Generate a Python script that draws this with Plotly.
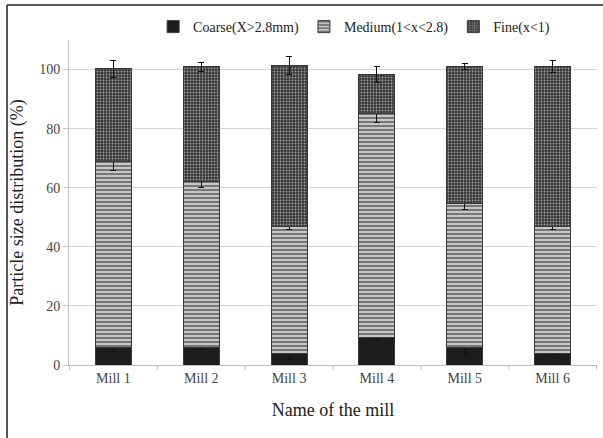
import plotly.graph_objects as go

mills = ["Mill 1", "Mill 2", "Mill 3", "Mill 4", "Mill 5", "Mill 6"]

# Fraction shares (%) per mill, stacked bottom to top
coarse = [6.0, 6.0, 3.8, 9.3, 6.0, 3.8]
medium = [63.0, 56.0, 43.2, 75.8, 48.8, 43.0]
fine = [31.2, 39.0, 54.4, 13.2, 46.3, 54.3]

coarse_err = [1.5, 0.8, 2.0, 0.5, 2.0, 0.4]
medium_err = [3.0, 2.0, 1.0, 3.0, 2.3, 1.0]
fine_err = [3.0, 1.5, 3.0, 2.6, 1.0, 2.0]

FONT = "Liberation Serif, Times New Roman, serif"
OUTLINE = dict(color="#3a3a3a", width=1)
ERR = dict(color="#111111", thickness=1, width=3)

fig = go.Figure()
fig.add_trace(go.Bar(
    x=mills, y=coarse, name="Coarse(X>2.8mm)",
    marker=dict(color="#1c1c1c", line=OUTLINE),
    error_y=dict(type="data", array=coarse_err, **ERR),
))
fig.add_trace(go.Bar(
    x=mills, y=medium, name="Medium(1<x<2.8)",
    marker=dict(color="#c4c4c4", line=OUTLINE,
                pattern=dict(shape="-", fgcolor="#767676", bgcolor="#c8c8c8",
                             size=4, solidity=0.5, fillmode="replace")),
    error_y=dict(type="data", array=medium_err, **ERR),
))
fig.add_trace(go.Bar(
    x=mills, y=fine, name="Fine(x<1)",
    marker=dict(color="#3c3c3c", line=OUTLINE,
                pattern=dict(shape=".", fgcolor="#9c9c9c", bgcolor="#383838",
                             size=3, solidity=0.3, fillmode="replace")),
    error_y=dict(type="data", array=fine_err, **ERR),
))

fig.update_layout(
    width=603, height=438,
    margin=dict(l=69, r=6, t=40, b=73),
    barmode="stack", bargap=0.59,
    paper_bgcolor="white", plot_bgcolor="white",
    font=dict(family=FONT, size=13, color="#333333"),
    legend=dict(orientation="h", x=0.54, xanchor="center", y=1.04, yanchor="middle",
                font=dict(family=FONT, size=14, color="#222222"),
                traceorder="normal", itemwidth=30, bgcolor="rgba(0,0,0,0)"),
    xaxis=dict(
        title=dict(text="Name of the mill", font=dict(family=FONT, size=18, color="#222222"),
                   standoff=18),
        showline=True, linecolor="#c0c0c0", linewidth=1,
        ticks="", tickfont=dict(family=FONT, size=14, color="#444444"),
        showgrid=False,
    ),
    yaxis=dict(
        title=dict(text="Particle size distribution (%)",
                   font=dict(family=FONT, size=18, color="#222222"), standoff=10),
        range=[0, 110], tickvals=[0, 20, 40, 60, 80, 100],
        showgrid=True, gridcolor="#d4d4d4", gridwidth=1,
        showline=True, linecolor="#c0c0c0", linewidth=1,
        ticks="outside", ticklen=5, tickcolor="#c0c0c0",
        tickfont=dict(family=FONT, size=14, color="#444444"),
        zeroline=False,
    ),
)

# Tick marks on the category axis, placed at the boundaries between mills
for i in range(len(mills) + 1):
    fig.add_shape(type="line", xref="x", yref="paper",
                  x0=i - 0.5, x1=i - 0.5, y0=0, y1=-0.015,
                  line=dict(color="#c0c0c0", width=1))

# Frame around the figure (left and top edges)
fig.add_shape(type="line", xref="paper", yref="paper",
              x0=-0.1174, x1=-0.1174, y0=-0.3, y1=1.1077,
              line=dict(color="#222222", width=1.5))
fig.add_shape(type="line", xref="paper", yref="paper",
              x0=-0.1174, x1=1.02, y0=1.1077, y1=1.1077,
              line=dict(color="#222222", width=1.5))

fig.write_html("out.html")
